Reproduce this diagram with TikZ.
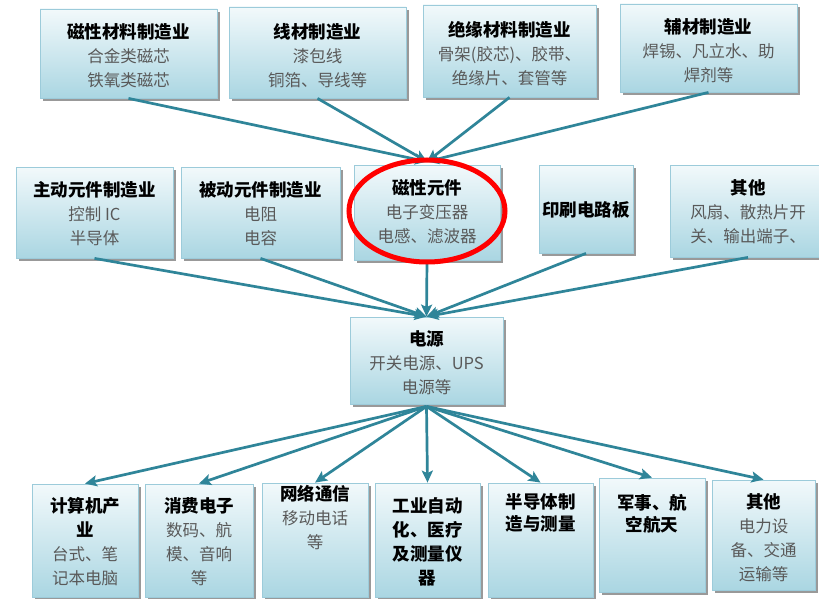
\documentclass[tikz,border=0pt]{standalone}
\usepackage{fontspec}
\newfontfamily\cjk{Noto Sans CJK SC}
\usetikzlibrary{shadows,arrows.meta}
\definecolor{arr}{HTML}{2F8599}
\definecolor{bdr}{HTML}{9CCBDA}
\definecolor{btop}{HTML}{F2F9FB}
\definecolor{bbot}{HTML}{AAD6E2}
\definecolor{bodytxt}{HTML}{595959}
\tikzset{
 box/.style={rectangle, draw=bdr, line width=0.8pt, top color=btop, bottom color=bbot, inner sep=0pt,
   drop shadow={shadow xshift=2.5pt, shadow yshift=-3pt, fill=black, opacity=0.4}},
 txt/.style={align=center, inner sep=0pt, text=bodytxt, font=\cjk\fontsize{16.5}{24}\selectfont},
 conn/.style={draw=arr, line width=2.7pt, -{Stealth[length=12pt,width=11pt,inset=2.5pt]}},
}
\newcommand\ttl[1]{{\color{black}\bfseries\fontsize{17.5}{24}\selectfont #1}}
\begin{document}
\begin{tikzpicture}[x=1pt,y=-1pt]
\useasboundingbox (0,0) rectangle (819,599);
\clip (0,0) rectangle (819,599);
\fill[white] (0,0) rectangle (819,599);
% top row
\node[box, minimum width=177pt, minimum height=89pt] (t1) at (128.5,53.5) {};
\node[box, minimum width=177pt, minimum height=91pt] (t2) at (317.5,52.5) {};
\node[box, minimum width=173pt, minimum height=92pt] (t3) at (509.5,51) {};
\node[box, minimum width=177pt, minimum height=88pt] (t4) at (708.5,48) {};
\node[txt] (t1x) at (128.5,56) {\ttl{磁性材料制造业}\\合金类磁芯\\铁氧类磁芯};
\node[txt] (t2x) at (317.5,56) {\ttl{线材制造业}\\漆包线\\铜箔、导线等};
\node[txt] (t3x) at (509.5,54) {\ttl{绝缘材料制造业}\\骨架(胶芯)、胶带、\\绝缘片、套管等};
\node[txt] (t4x) at (708.5,51) {\ttl{辅材制造业}\\焊锡、凡立水、助\\焊剂等};
% middle row
\node[box, minimum width=157pt, minimum height=91pt] (ma) at (94.5,212.5) {};
\node[box, minimum width=159pt, minimum height=91pt] (mb) at (260.5,212.5) {};
\node[box, minimum width=146pt, minimum height=95pt] (mc) at (427,212.5) {};
\node[box, minimum width=94pt, minimum height=88pt] (md) at (586,209) {};
\node[box, minimum width=156pt, minimum height=92pt] (me) at (748,211) {};
\node[txt] (max) at (94.5,214) {\ttl{主动元件制造业}\\控制 IC\\半导体};
\node[txt] (mbx) at (260.5,214) {\ttl{被动元件制造业}\\电阻\\电容};
\node[txt] (mcx) at (427,212) {\ttl{磁性元件}\\电子变压器\\电感、滤波器};
\node[txt] (mdx) at (586,210) {\ttl{印刷电路板}};
\node[txt] (mex) at (748,212) {\ttl{其他}\\风扇、散热片开\\关、输出端子、};
% power
\node[box, minimum width=153pt, minimum height=87pt] (ps) at (426.5,360.5) {};
\node[txt] (psx) at (426.5,363) {\ttl{电源}\\开关电源、UPS\\电源等};
% bottom row
\node[box, minimum width=106pt, minimum height=113pt] (b1) at (85,540.5) {};
\node[box, minimum width=108pt, minimum height=113pt] (b2) at (199,540.5) {};
\node[box, minimum width=106pt, minimum height=114pt] (b3) at (315,540) {};
\node[box, minimum width=105pt, minimum height=114pt] (b4) at (427.5,540) {};
\node[box, minimum width=105pt, minimum height=114pt] (b5) at (540.5,540) {};
\node[box, minimum width=106pt, minimum height=114pt] (b6) at (652,535) {};
\node[box, minimum width=103pt, minimum height=110pt] (b7) at (763.5,535) {};
\node[txt] (b1x) at (85,542) {\ttl{计算机产}\\\ttl{业}\\台式、笔\\记本电脑};
\node[txt] (b2x) at (199,542) {\ttl{消费电子}\\数码、航\\模、音响\\等};
\node[txt] (b3x) at (315,518) {\ttl{网络通信}\\移动电话\\等};
\node[txt] (b4x) at (427.5,542) {\ttl{工业自动}\\\ttl{化、医疗}\\\ttl{及测量仪}\\\ttl{器}};
\node[txt, font=\cjk\fontsize{16.5}{22}\selectfont] (b5x) at (540.5,513) {\ttl{半导体制}\\\ttl{造与测量}};
\node[txt, font=\cjk\fontsize{16.5}{22}\selectfont] (b6x) at (652,514) {\ttl{军事、航}\\\ttl{空航天}};
\node[txt] (b7x) at (763.5,538) {\ttl{其他}\\电力设\\备、交通\\运输等};
% connectors
\foreach \s in {t1,t2,t3,t4} \draw[conn] (\s.south) -- ([yshift=3pt]mc.north);
\foreach \s in {ma,mb,mc,md,me} \draw[conn] (\s.south) -- (ps.north);
\foreach \t in {b1,b2,b3,b4,b5,b6,b7} \draw[conn] ([yshift=-2pt]ps.south) -- (\t.north);
% highlight
\draw[red, line width=5pt] (427,211) ellipse [x radius=78pt, y radius=51pt];
\end{tikzpicture}
\end{document}
